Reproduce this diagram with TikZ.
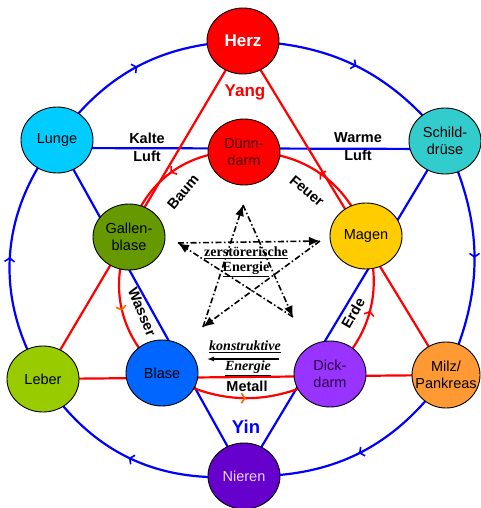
\documentclass[tikz,border=0pt]{standalone}
\usepackage{fontspec}
\setmainfont{Liberation Sans}
\newfontfamily\serifbf{Liberation Serif}
\usetikzlibrary{shapes.geometric,arrows.meta,decorations.markings,backgrounds}
\definecolor{cHerz}{HTML}{FF0000}
\definecolor{cLunge}{HTML}{00CCFF}
\definecolor{cSchild}{HTML}{33CCCC}
\definecolor{cGallen}{HTML}{669900}
\definecolor{cMagen}{HTML}{FFCC00}
\definecolor{cLeber}{HTML}{99CC00}
\definecolor{cBlase}{HTML}{0066FF}
\definecolor{cDick}{HTML}{9933FF}
\definecolor{cMilz}{HTML}{FF9933}
\definecolor{cNieren}{HTML}{6600CC}
\definecolor{lblue}{HTML}{0000FF}
\definecolor{lred}{HTML}{FF0000}
\definecolor{lorange}{HTML}{FF6600}
\definecolor{tNieren}{HTML}{E6D8FF}
\definecolor{tDick}{HTML}{2A0040}
\definecolor{tDuenn}{HTML}{4A0000}
\tikzset{
  organ/.style={ellipse, draw=black, line width=0.9pt, minimum width=72pt, minimum height=66pt, inner sep=0pt},
  otext/.style={font=\fontsize{14.5}{16.5}\selectfont, align=center, inner sep=0pt},
  bluel/.style={draw=lblue, line width=2.2pt},
  redl/.style={draw=lred, line width=2.2pt},
  mk/.style={postaction={decorate}, decoration={markings, mark=at position #1 with {\arrow{Straight Barb[length=3.5pt,width=10pt,line width=1.6pt]}}}},
  mko/.style={postaction={decorate}, decoration={markings, mark=at position #1 with {\arrow{Straight Barb[length=3.5pt,width=10pt,line width=1.6pt,color=lorange]}}}},
  fl/.style={font=\bfseries\fontsize{14.5}{18}\selectfont, align=center, inner sep=0pt},
  starline/.style={draw=black, line width=1.6pt, dash pattern=on 6pt off 2.5pt on 1.5pt off 2.5pt, -{Latex[length=11pt,width=9pt]}}
}
\begin{document}
\begin{tikzpicture}[x=1pt,y=-1pt]
\useasboundingbox (0,0) rectangle (480,508);
% organs
\node[organ, fill=cHerz, label={[otext,text=white,font=\bfseries\fontsize{17}{19}\selectfont]center:Herz}] (Herz) at (243,41) {};
\node[organ, fill=cHerz, label={[otext,text=tDuenn]center:Dünn-\\darm}] (Duenn) at (244,152) {};
\node[organ, fill=cLunge, label={[otext]center:Lunge}] (Lunge) at (57,140) {};
\node[organ, fill=cSchild, label={[otext]center:Schild-\\drüse}] (Schild) at (445,141) {};
\node[organ, fill=cGallen, label={[otext]center:Gallen-\\blase}] (Gallen) at (129,237) {};
\node[organ, fill=cMagen, label={[otext]center:Magen}] (Magen) at (366,236) {};
\node[organ, fill=cLeber, label={[otext]center:Leber}] (Leber) at (43,379) {};
\node[organ, fill=cBlase, label={[otext]center:Blase}] (Blase) at (162,373) {};
\node[organ, fill=cDick, label={[otext,text=tDick]center:Dick-\\darm}] (Dick) at (330,374) {};
\node[organ, fill=cMilz, minimum width=68pt, label={[otext]center:Milz/\\Pankreas}] (Milz) at (446,375) {};
\node[organ, fill=cNieren, label={[otext,text=tNieren]center:Nieren}] (Nieren) at (244,476) {};
\begin{scope}[on background layer]
% outer ring
\draw[bluel, mk=0.5] (Herz.center) to[bend left=25] (Schild.center);
\draw[bluel, mk=0.5] (Schild.center) to[bend left=25] (Milz.center);
\draw[bluel, mk=0.5] (Milz.center) to[bend left=28] (Nieren.center);
\draw[bluel, mk=0.5] (Nieren.center) to[bend left=31] (Leber.center);
\draw[bluel, mk=0.5] (Leber.center) to[bend left=35] (Lunge.center);
\draw[bluel, mk=0.5] (Lunge.center) to[bend left=26] (Herz.center);
% Yin triangle
\draw[bluel] ([yshift=-8pt]Lunge.center) -- ([yshift=-8pt]Schild.center);
\draw[bluel] (Lunge.center) -- (Nieren.center);
\draw[bluel] (Schild.center) -- (Nieren.center);
% Yang triangle
\draw[redl] (Herz.center) -- (Leber.center);
\draw[redl] (Herz.center) -- (Milz.center);
\draw[redl] (Leber.center) -- (Milz.center);
% inner ring
\draw[redl, mk=0.5] (Duenn.center) to[bend right=40] (Gallen.center);
\draw[redl, mko=0.5] (Gallen.center) to[bend right=36] (Blase.center);
\draw[redl, mko=0.5] (Blase.center) to[bend right=30] (Dick.center);
\draw[redl, mk=0.5] (Dick.center) to[bend right=33] (Magen.center);
\draw[redl, mk=0.5] (Magen.center) to[bend right=36] (Duenn.center);
\end{scope}
% star (destructive cycle)
\coordinate (sT) at (243,205);
\coordinate (sL) at (178,243);
\coordinate (sR) at (320,241);
\coordinate (sBL) at (203,327);
\coordinate (sBR) at (293,317);
\draw[starline] (sBL) -- (sT);
\draw[starline] (sT) -- (sBR);
\draw[starline] (sBR) -- (sL);
\draw[starline] (sL) -- (sR);
\draw[starline] (sR) -- (sBL);
% labels
\node[fl] (kalte) at (147,147) {Kalte\\Luft};
\node[fl] (warme) at (358,147) {Warme\\Luft};
\node[fl, text=lred, font=\bfseries\fontsize{17}{19}\selectfont] (yang) at (245,92) {Yang};
\node[fl, text=lblue, font=\bfseries\fontsize{18.5}{20}\selectfont] (yin) at (246,427) {Yin};
\node[fl, rotate=50] (baum) at (183,192) {Baum};
\node[fl, rotate=-40] (feuer) at (307,191) {Feuer};
\node[fl, rotate=-67] (wasser) at (142,312) {Wasser};
\node[fl, rotate=60] (erde) at (353,313) {Erde};
\node[fl] (metall) at (247,386) {Metall};
\node[inner sep=0pt, font=\serifbf\bfseries\fontsize{14}{16}\selectfont] (zer) at (246,253) {\underline{zerstörerische}};
\node[inner sep=0pt, font=\serifbf\bfseries\fontsize{14}{16}\selectfont] (zerE) at (246,269) {\underline{Energie}};
\node[inner sep=0pt, font=\serifbf\bfseries\itshape\fontsize{14}{16}\selectfont] (kon) at (245,347) {\underline{konstruktive}};
\node[inner sep=0pt, font=\serifbf\bfseries\itshape\fontsize{14}{16}\selectfont] (konE) at (248,368) {\underline{Energie}};
\coordinate (kA) at (279,359);
\coordinate (kB) at (207,359);
\draw[line width=1.3pt, -{Latex[length=7pt,width=5pt]}] (kA) -- (kB);
\end{tikzpicture}
\end{document}
